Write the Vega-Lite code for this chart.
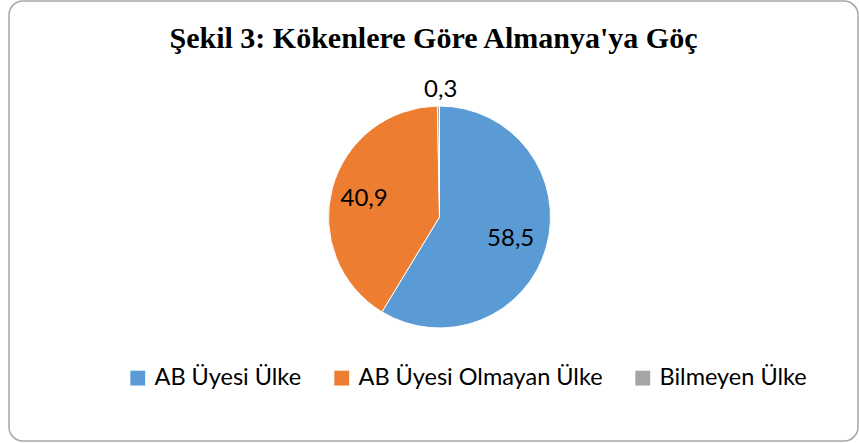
{
  "$schema": "https://vega.github.io/schema/vega-lite/v6.json",
  "width": 859,
  "height": 443,
  "autosize": {"type": "fit", "contains": "padding"},
  "padding": {"left": 9, "top": 1, "right": 1, "bottom": 2},
  "background": "white",
  "view": {"stroke": "#A6A6A6", "strokeWidth": 1.5, "cornerRadius": 14, "fill": "white"},
  "title": {
    "text": "Şekil 3: Kökenlere Göre Almanya'ya Göç",
    "font": "Liberation Serif",
    "fontWeight": "bold",
    "fontSize": 30,
    "color": "black",
    "anchor": "middle",
    "frame": "group",
    "orient": "top",
    "baseline": "alphabetic",
    "offset": -77
  },
  "data": {
    "values": [
      {"kategori": "AB Üyesi Ülke", "deger": 58.5, "etiket": "58,5", "sira": 1},
      {"kategori": "AB Üyesi Olmayan Ülke", "deger": 40.9, "etiket": "40,9", "sira": 2},
      {"kategori": "Bilmeyen Ülke", "deger": 0.3, "etiket": "0,3", "sira": 3}
    ]
  },
  "encoding": {
    "theta": {"field": "deger", "type": "quantitative", "stack": true},
    "order": {"field": "sira", "type": "quantitative"},
    "color": {
      "field": "kategori",
      "type": "nominal",
      "sort": ["AB Üyesi Ülke", "AB Üyesi Olmayan Ülke", "Bilmeyen Ülke"],
      "scale": {
        "domain": ["AB Üyesi Ülke", "AB Üyesi Olmayan Ülke", "Bilmeyen Ülke"],
        "range": ["#5B9BD5", "#ED7D31", "#A5A5A5"]
      },
      "legend": {
        "orient": "none",
        "legendX": 117,
        "legendY": 365,
        "direction": "horizontal",
        "columns": 3,
        "columnPadding": 28,
        "title": null,
        "symbolType": "square",
        "symbolSize": 220,
        "symbolStrokeWidth": 0,
        "symbolOpacity": 1,
        "labelFont": "Lato",
        "labelFontSize": 23.5,
        "labelColor": "black",
        "labelOffset": 5,
        "labelLimit": 400
      }
    }
  },
  "layer": [
    {
      "mark": {"type": "arc", "outerRadius": 111, "stroke": "white", "strokeWidth": 1, "xOffset": 6, "yOffset": -4}
    },
    {
      "transform": [{"filter": "datum.deger > 5"}],
      "mark": {"type": "text", "radius": 76, "font": "Lato", "fontSize": 24, "color": "black", "xOffset": 4, "yOffset": -2},
      "encoding": {"text": {"field": "etiket"}, "color": {"value": "black"}}
    },
    {
      "transform": [{"filter": "datum.deger <= 5"}],
      "mark": {"type": "text", "radius": 127, "font": "Lato", "fontSize": 24, "color": "black", "xOffset": 6, "yOffset": -4},
      "encoding": {"text": {"field": "etiket"}, "color": {"value": "black"}}
    }
  ]
}
